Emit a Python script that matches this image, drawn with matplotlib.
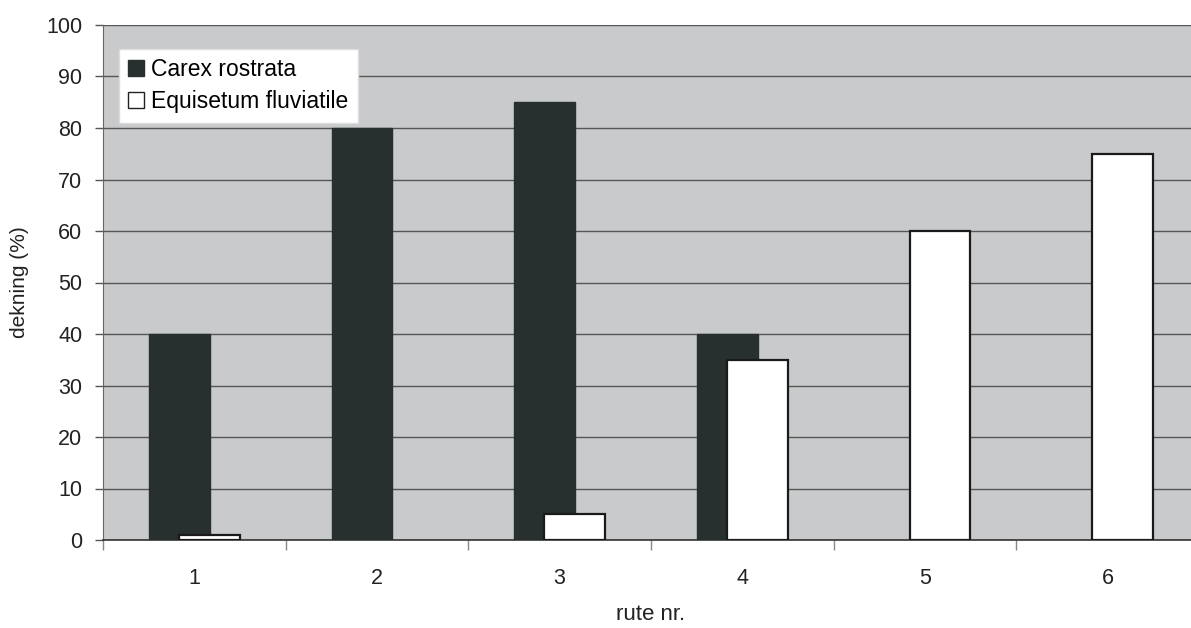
import matplotlib
matplotlib.use("Agg")
import matplotlib.pyplot as plt
import numpy as np
from matplotlib.patches import Patch

categories = ["1", "2", "3", "4", "5", "6"]
carex = [40, 80, 85, 40, 0, 0]
equisetum = [1, 0, 5, 35, 60, 75]
series_names = ["Carex rostrata", "Equisetum fluviatile"]
y_ticks = [0, 10, 20, 30, 40, 50, 60, 70, 80, 90, 100]

plt.rcParams['font.family'] = ['Liberation Sans', 'DejaVu Sans']

fig = plt.figure(figsize=(11.91, 6.28), dpi=100)
ax = fig.add_axes([103/1191, 88/628, 1096/1191, 515/628])
ax.set_facecolor('#c8cacc')

x = np.arange(len(categories))
w = 0.333
off = 0.082
dark = '#27302f'
ax.bar(x - off, carex, width=w, color=dark,
       edgecolor=[dark if v > 0 else 'none' for v in carex], linewidth=1, zorder=3)
ax.bar(x + off, equisetum, width=w, color='white',
       edgecolor=['#1a1a1a' if v > 0 else 'none' for v in equisetum], linewidth=1.6, zorder=4)

ax.set_xlim(-0.5, len(categories) - 0.5)
ax.set_ylim(0, 100)
ax.set_yticks(y_ticks)
ax.set_yticklabels([str(v) for v in y_ticks], fontsize=15.5, color='#222222')
ax.yaxis.grid(True, color='#555555', linewidth=1.0, zorder=1)
ax.set_axisbelow(True)

ax.set_xticks(x)
ax.set_xticklabels(categories, fontsize=15.5, color='#222222')
ax.set_xticks(np.arange(-0.5, len(categories), 1.0), minor=True)
ax.tick_params(axis='x', which='major', length=0, pad=20)
ax.tick_params(axis='x', which='minor', length=7, color='#888888', width=1)
ax.tick_params(axis='y', length=6, color='#555555', width=1, pad=9)

for s in ['top', 'right']:
    ax.spines[s].set_visible(False)
ax.spines['left'].set_color('#666666')
ax.spines['bottom'].set_color('#333333')
ax.spines['bottom'].set_linewidth(1.2)

ax.set_xlabel('rute nr.', fontsize=16, color='#222222', labelpad=11)
ax.set_ylabel('dekning (%)', fontsize=15, color='#222222', labelpad=12)

handles = [Patch(facecolor=dark, edgecolor=dark),
           Patch(facecolor='white', edgecolor='#222222')]
leg = ax.legend(handles, series_names, loc='upper left', bbox_to_anchor=(16/1096, 1 - 24/515),
                fontsize=16.5, frameon=True, fancybox=False, framealpha=1, edgecolor='#dddddd',
                handlelength=0.7, handleheight=0.7, handletextpad=0.3, borderpad=0.4,
                labelspacing=0.4, borderaxespad=0)
leg.set_zorder(10)

fig.savefig('out.png', dpi=100)
